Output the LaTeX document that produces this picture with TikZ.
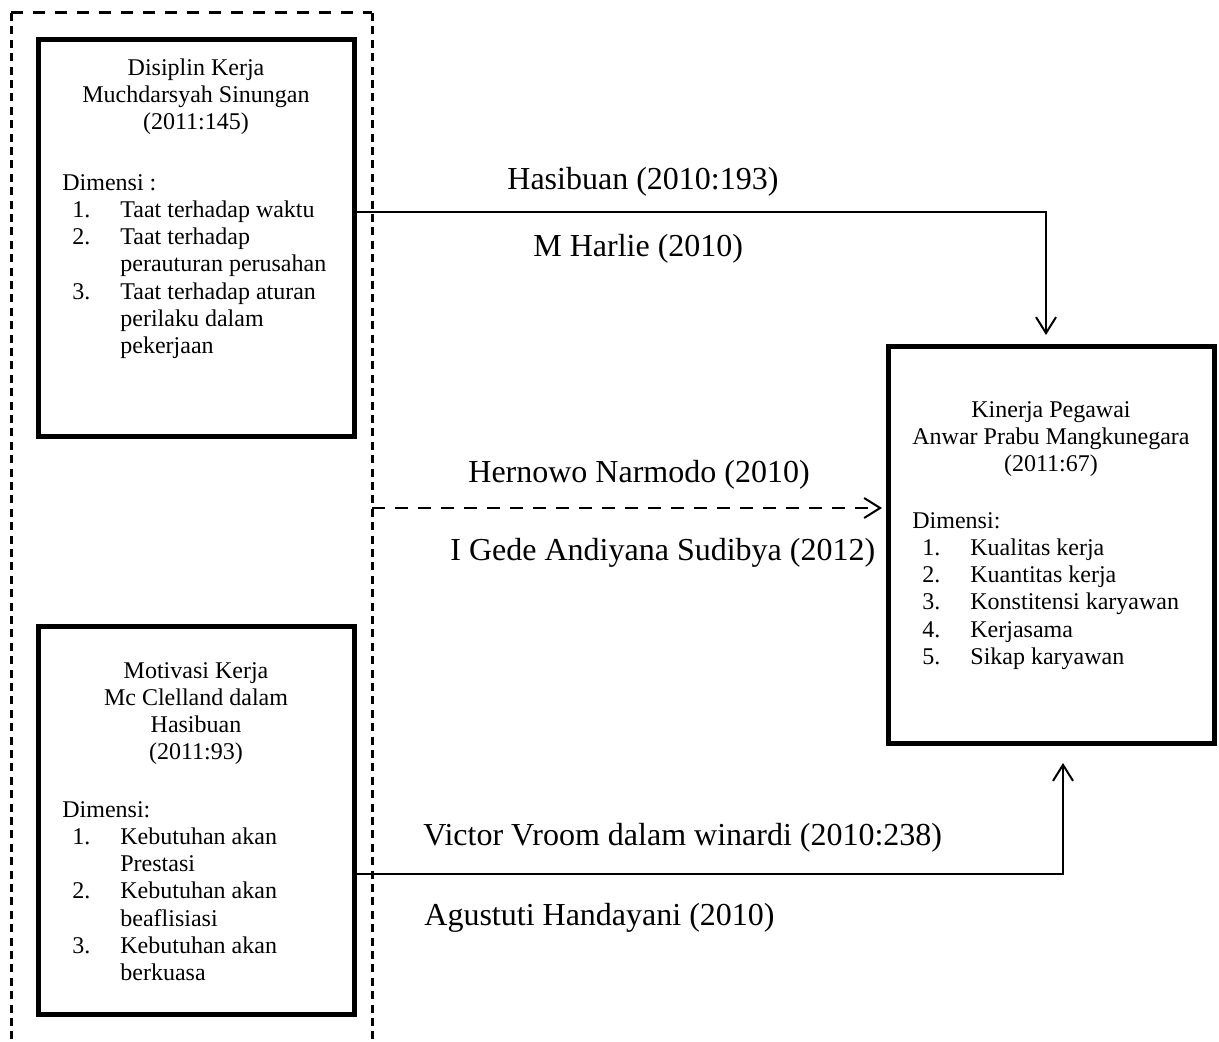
\documentclass[tikz,border=0pt]{standalone}
\usepackage{fontspec}
\setmainfont{Liberation Serif}
\usetikzlibrary{%
    arrows.meta,
    positioning
}
\newcommand{\butir}[2]{\par\hangindent=29pt\hangafter=1\noindent\hspace*{5pt}\makebox[24pt][l]{#1}#2\par}
\newcommand{\dimbox}[1]{\parbox[t]{140pt}{\raggedright #1\par}}
\tikzset{barbarrow/.style = {-{Straight Barb[length=8pt,width=10pt]}}}
\tikzset{link/.style = {line width=1pt,barbarrow}}
\tikzset{hypo/.style = {link,dash pattern=on 6.5pt off 5pt}}
\tikzset{factorbox/.style = {draw,line width=2.5pt,inner sep=0pt,outer sep=0pt}}
\tikzset{boxtitle/.style = {align=center,inner sep=0pt,font=\fontsize{12}{13.6}\selectfont}}
\tikzset{dimlist/.style = {inner sep=0pt,font=\fontsize{12}{13.6}\selectfont}}
\tikzset{reflabel/.style = {anchor=base west,inner sep=0pt,font=\fontsize{16}{19}\selectfont}}
\tikzset{framev/.style = {line width=1.5pt,dash pattern=on 4pt off 2.7pt}}
\tikzset{frameh/.style = {line width=1.5pt,dash pattern=on 6pt off 5pt}}

\begin{document}
\begin{tikzpicture}[x=0.5pt,y=-0.5pt]
    \useasboundingbox (0,0) rectangle (1219,1042);

    % dashed frame round the two factors
    \draw[frameh] (11,13) -- (372,13);
    \draw[framev] (11,13) -- (11,1042);
    \draw[framev] (372,13) -- (372,1042);
    \coordinate (gate) at (372,508);

    \node[factorbox, minimum width=158pt, minimum height=198.5pt] (disiplin) at (196,238.5) {};
    \node[boxtitle, below=9pt of disiplin.north] (disiplintitle)
        {Disiplin Kerja\\Muchdarsyah Sinungan\\(2011:145)};
    \node[dimlist, below right=67pt and 12pt of disiplin.north west] (disiplinlist)
        {\dimbox{Dimensi :
         \butir{1.}{Taat terhadap waktu}
         \butir{2.}{Taat terhadap\newline perauturan perusahan}
         \butir{3.}{Taat terhadap aturan\newline perilaku dalam\newline pekerjaan}}};

    \node[factorbox, minimum width=158pt, minimum height=194pt] (motivasi) at (196,820) {};
    \node[boxtitle, below=18pt of motivasi.north] (motivasititle)
        {Motivasi Kerja\\Mc Clelland dalam\\Hasibuan\\(2011:93)};
    \node[dimlist, below right=87.5pt and 12pt of motivasi.north west] (motivasilist)
        {\dimbox{Dimensi:
         \butir{1.}{Kebutuhan akan\newline Prestasi}
         \butir{2.}{Kebutuhan akan\newline beaflisiasi}
         \butir{3.}{Kebutuhan akan\newline berkuasa}}};

    \node[factorbox, minimum width=163pt, minimum height=198pt] (kinerja) at (1051,545) {};
    \node[boxtitle, below=27pt of kinerja.north] (kinerjatitle)
        {Kinerja Pegawai\\Anwar Prabu Mangkunegara\\(2011:67)};
    \node[dimlist, below right=82.5pt and 12pt of kinerja.north west] (kinerjalist)
        {\dimbox{Dimensi:
         \butir{1.}{Kualitas kerja}
         \butir{2.}{Kuantitas kerja}
         \butir{3.}{Konstitensi karyawan}
         \butir{4.}{Kerjasama}
         \butir{5.}{Sikap karyawan}}};

    \draw[link, shorten >=6pt] ([yshift=13.25pt]disiplin.east) -| ([xshift=-2.5pt]kinerja.north);
    \draw[hypo, shorten >=3pt] (gate) -- (gate -| kinerja.west);
    \draw[link, shorten >=10pt] ([yshift=-27pt]motivasi.east) -| ([xshift=6pt]kinerja.south);

    \node[reflabel] (hasibuan) at (507,190) {Hasibuan (2010:193)};
    \node[reflabel] (harlie) at (533,257) {M Harlie (2010)};
    \node[reflabel] (hernowo) at (468,482) {Hernowo Narmodo (2010)};
    \node[reflabel] (sudibya) at (450,560) {I Gede Andiyana Sudibya (2012)};
    \node[reflabel] (vroom) at (423,845) {Victor Vroom dalam winardi (2010:238)};
    \node[reflabel] (handayani) at (424,925) {Agustuti Handayani (2010)};
\end{tikzpicture}
\end{document}
